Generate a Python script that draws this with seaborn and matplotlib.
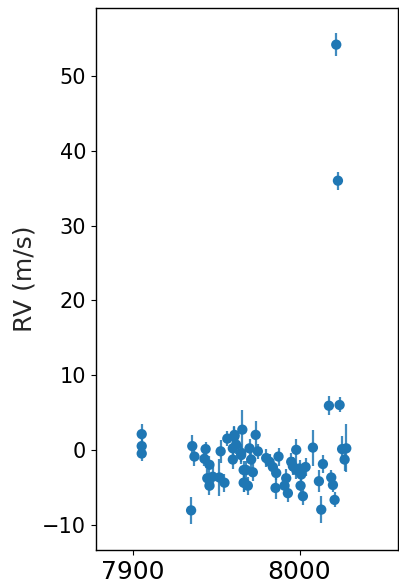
import matplotlib
matplotlib.use("Agg")
import matplotlib.pyplot as plt
import seaborn as sns
import pandas as pd

time = [7905.4, 7905.4, 7905.4, 7935.0, 7935.7, 7937.0, 7943.7, 7943.0, 7946.0, 7944.7,
        7946.0, 7948.0, 7952.7, 7952.0, 7955.0, 7956.7, 7960.0, 7961.0, 7965.0, 7966.5,
        7965.7, 7961.0, 7962.0, 7960.0, 7973.7, 7965.0, 7970.0, 7971.0, 7975.0, 7968.0,
        7972.0, 7967.0, 7969.0, 7980.0, 7982.0, 7987.4, 7984.0, 7986.0, 7985.6, 7992.0,
        7991.0, 7993.0, 7998.0, 7995.0, 7996.0, 7998.0, 8000.0, 8001.0, 8003.6, 8000.6,
        8002.0, 8008.0, 8011.6, 8014.0, 8013.0, 8017.6, 8024.0, 8019.0, 8020.0, 8021.0,
        8025.5, 8028.0, 8027.0, 8022.0, 8023.0, 7966.5]
rv = [2.1, 0.5, -0.5, -8.1, 0.5, -0.9, 0.1, -1.2, -2.0, -3.8,
      -4.8, -3.6, -0.2, -3.7, -4.4, 1.5, 0.2, 1.8, -0.7, -2.7,
      2.7, 2.0, 0.7, -1.3, 2.0, -0.4, 0.2, -1.3, -0.2, -2.7,
      -3.0, -4.4, -4.8, -1.1, -1.6, -0.9, -2.3, -3.1, -5.1, -3.8,
      -4.8, -5.8, 0.0, -1.6, -2.2, -2.7, -2.5, -3.3, -2.3, -4.8,
      -6.2, 0.3, -4.2, -1.9, -8.0, 5.9, 6.0, -3.7, -4.7, -6.7,
      0.1, 0.2, -1.3, 54.2, 36.0, -4.4]
rv_err = [1.3, 1.0, 1.0, 1.8, 1.5, 1.2, 1.0, 1.0, 1.2, 1.2,
          1.2, 1.5, 1.5, 2.5, 1.2, 1.0, 1.2, 1.2, 1.2, 1.2,
          2.6, 1.2, 1.2, 1.2, 1.8, 1.2, 1.2, 1.2, 1.0, 1.2,
          1.2, 1.2, 1.2, 1.2, 1.0, 1.2, 1.0, 1.0, 1.5, 1.2,
          1.2, 1.2, 1.5, 1.2, 1.2, 1.2, 1.2, 1.2, 1.2, 1.2,
          1.2, 2.4, 1.5, 1.2, 1.8, 1.3, 1.0, 1.0, 1.0, 1.0,
          1.8, 3.2, 1.5, 1.5, 1.2, 1.2]

df = pd.DataFrame({"time": time, "rv": rv, "err": rv_err})

sns.set_style("ticks")
plt.rcParams["font.family"] = ["DejaVu Sans"]

fig = plt.figure(figsize=(3.99, 5.85), dpi=100)
ax = fig.add_axes([96 / 399, 35 / 585, 302 / 399, 542 / 585])

color = "#1f77b4"
ax.errorbar(df["time"], df["rv"], yerr=df["err"], fmt="none", ecolor=color,
            elinewidth=1.6, alpha=0.85, zorder=2)
sns.scatterplot(data=df, x="time", y="rv", ax=ax, color=color, s=55,
                edgecolor="none", zorder=3)

ax.set_xlim(7878, 8059)
ax.set_ylim(-13.4, 59.1)
ax.set_xticks([7900, 8000])
ax.set_yticks([-10, 0, 10, 20, 30, 40, 50])
ax.tick_params(axis="x", labelsize=18, colors="black")
ax.tick_params(axis="y", labelsize=15, colors="black")
ax.set_xlabel("")
ax.set_ylabel("RV (m/s)", fontsize=18, labelpad=4)
for sp in ax.spines.values():
    sp.set_color("black")
    sp.set_linewidth(1.0)

fig.savefig("out.png", dpi=100)
